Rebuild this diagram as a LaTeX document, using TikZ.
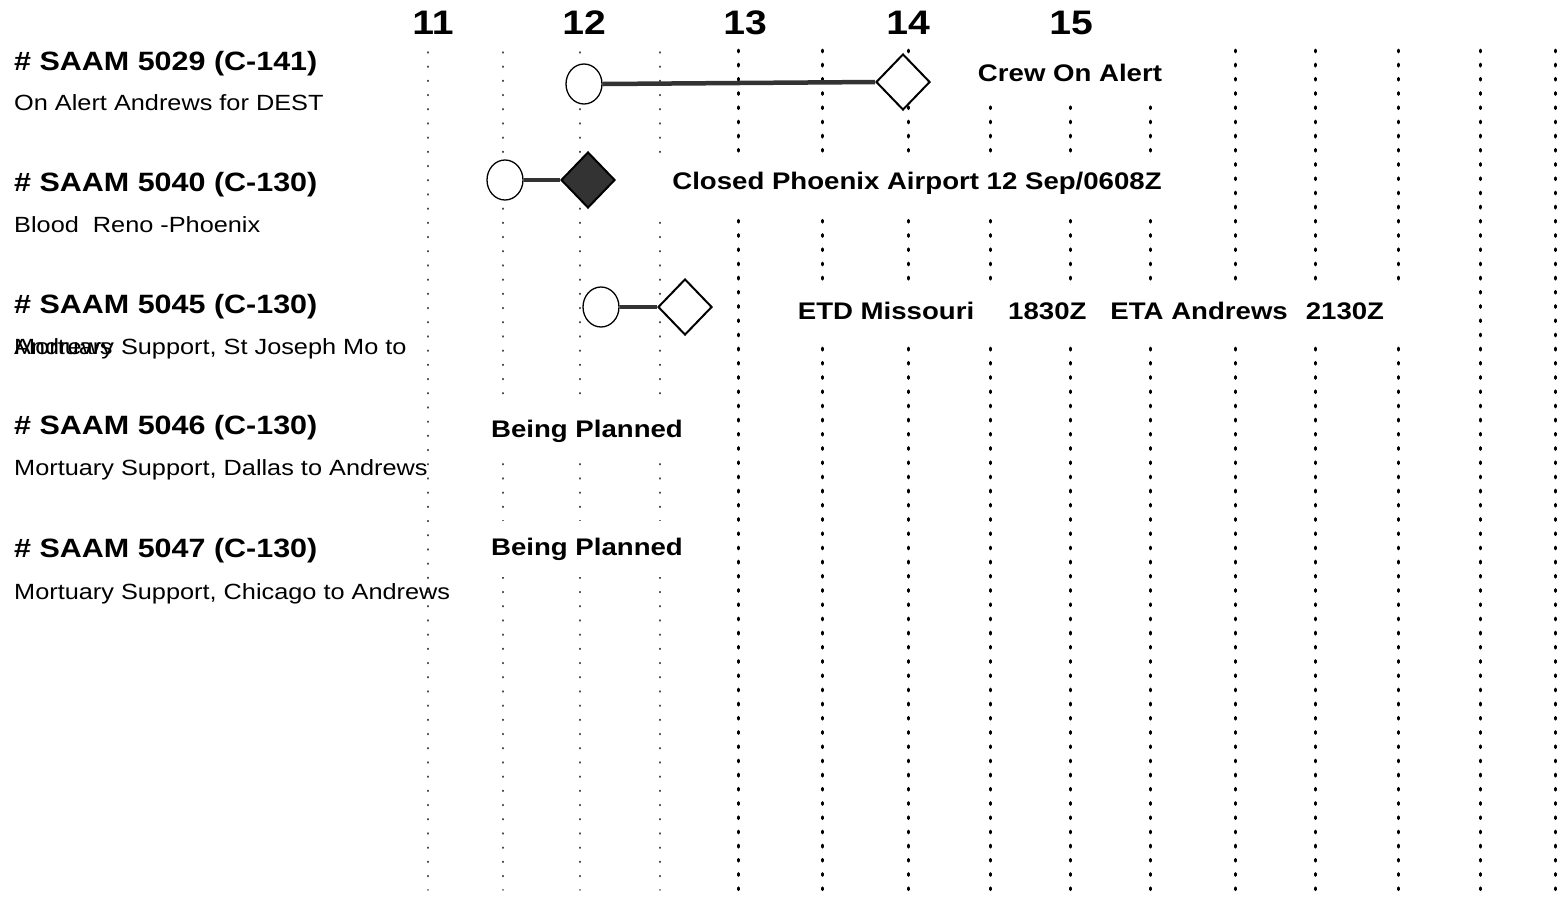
\documentclass[tikz,border=0pt]{standalone}
\usepackage{fontspec}
\setmainfont[FakeStretch=1.15]{Liberation Sans}
\usetikzlibrary{shapes.geometric}

\begin{document}
\begin{tikzpicture}[x=1pt,y=-1pt,
  hour/.style={font=\fontsize{34}{36}\selectfont\bfseries,anchor=base,inner sep=0pt},
  title/.style={font=\fontsize{26.5}{30}\selectfont\bfseries,anchor=base west,inner sep=0pt},
  desc/.style={font=\fontsize{22}{26}\selectfont,anchor=base west,inner sep=0pt},
  event/.style={font=\fontsize{24}{28}\selectfont\bfseries,anchor=base,fill=white,
    text height=18pt,text depth=5pt,inner xsep=16pt,inner ysep=0pt,minimum height=56pt},
  faintline/.style={black!70,line width=1.4pt,line cap=round,dash pattern=on 0.9pt off 13.3pt},
  hourline/.style={black,line width=3pt,line cap=round,dash pattern=on 1.8pt off 12.4pt},
  depart/.style={ellipse,draw,line width=1.3pt,fill=white,minimum width=36pt,minimum height=40pt,inner sep=0pt},
  arrive/.style={diamond,draw,line width=2pt,fill=white,minimum width=54pt,minimum height=56pt,inner sep=0pt},
  closed/.style={arrive,fill=black!80},
  leg/.style={black!80,line width=4.5pt}]
  \useasboundingbox (0,0) rectangle (1568,898);

  % Hour lines
  \foreach \x in {428,503,580,660}
    \draw[faintline] (\x,52) -- (\x,890);
  \foreach \x in {738,822,908,990,1070,1150,1235,1315,1398,1480,1555}
    \draw[hourline] (\x,50) -- (\x,890);

  % Hour labels
  \node[hour] (h11) at (433,34) {11};
  \node[hour] (h12) at (584,34) {12};
  \node[hour] (h13) at (745,34) {13};
  \node[hour] (h14) at (908,34) {14};
  \node[hour] (h15) at (1071,34) {15};

  % Missions
  \node[title] (t5029) at (14,70) {\# SAAM 5029 (C-141)};
  \node[desc] (d5029) at (14,110) {On Alert Andrews for DEST};
  \node[title] (t5040) at (14,191) {\# SAAM 5040 (C-130)};
  \node[desc] (d5040) at (14,232) {Blood\ \ Reno -Phoenix};
  \node[title] (t5045) at (14,313) {\# SAAM 5045 (C-130)};
  \node[desc] (d5045) at (14,354) {Mortuary Support, St Joseph Mo to};
  \node[desc] (d5045b) at (14,354) {Andrews};
  \node[title] (t5046) at (14,434) {\# SAAM 5046 (C-130)};
  \node[desc] (d5046) at (14,475) {Mortuary Support, Dallas to Andrews};
  \node[title] (t5047) at (14,557) {\# SAAM 5047 (C-130)};
  \node[desc] (d5047) at (14,599) {Mortuary Support, Chicago to Andrews};

  % Status texts
  \node[event] (e5029) at (1070,81) {Crew On Alert};
  \node[event] (e5040) at (917,189) {Closed Phoenix Airport 12 Sep/0608Z};
  \node[event] (e5045) at (1091,319) {ETD Missouri\hspace{34pt}1830Z\hspace{24pt}ETA Andrews\hspace{18pt}2130Z};
  \node[event] (e5046) at (587,437) {Being Planned};
  \node[event] (e5047) at (587,555) {Being Planned};

  % Flight legs
  \node[depart] (c5029) at (584,84) {};
  \node[arrive] (a5029) at (903,82) {};
  \draw[leg] (c5029.east) -- (a5029.west);

  \node[depart] (c5040) at (505,180) {};
  \node[closed] (a5040) at (588,180) {};
  \draw[leg] (c5040.east) -- (a5040.west);

  \node[depart] (c5045) at (601,307) {};
  \node[arrive] (a5045) at (685,307) {};
  \draw[leg] (c5045.east) -- (a5045.west);
\end{tikzpicture}
\end{document}
